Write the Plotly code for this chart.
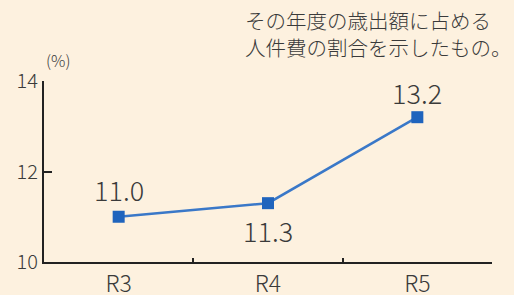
import plotly.graph_objects as go

categories = ["R3", "R4", "R5"]
values = [11.0, 11.3, 13.2]
value_labels = ["11.0", "11.3", "13.2"]
label_shift = [27, -27, 25]
y_ticks = [10, 12, 14]
note_lines = ["その年度の歳出額に占める", "人件費の割合を示したもの。"]
unit_text = "(%)"

BG = "#fdf1df"
LINE = "#3a78c8"
MARK = "#1f64bd"
TXT = "#3a3a3a"
FONT = "Noto Sans CJK JP"

fig = go.Figure()
fig.add_trace(go.Scatter(
    x=categories, y=values, mode="lines+markers",
    line=dict(color=LINE, width=2.5),
    marker=dict(symbol="square", size=12, color=MARK),
    hoverinfo="skip", showlegend=False,
))

for c, v, t, s in zip(categories, values, value_labels, label_shift):
    fig.add_annotation(x=c, y=v, text=t, showarrow=False, yshift=s,
                       font=dict(family=FONT, size=27, color=TXT, weight=300))

fig.add_annotation(xref="paper", yref="paper", x=0.444, y=1.26,
                   xanchor="left", yanchor="middle", align="left",
                   text="<br>".join(note_lines), showarrow=False,
                   font=dict(family=FONT, size=20.5, color=TXT, weight=300))
fig.add_annotation(xref="paper", yref="paper", x=0.031, y=1.116,
                   xanchor="center", yanchor="middle",
                   text=unit_text, showarrow=False,
                   font=dict(family=FONT, size=16, color=TXT, weight=300))

fig.update_layout(
    width=514, height=295,
    margin=dict(l=44, r=22, t=81, b=33),
    paper_bgcolor=BG, plot_bgcolor=BG,
    font=dict(family=FONT, color=TXT),
    xaxis=dict(range=[-0.5, 2.5], showgrid=False, zeroline=False,
               automargin=False,
               showline=True, linecolor="#222", linewidth=2,
               ticks="inside", tickson="boundaries", ticklen=4,
               tickwidth=2, tickcolor="#222", ticklabelstandoff=0,
               tickfont=dict(family=FONT, size=23, color=TXT, weight=300)),
    yaxis=dict(range=[10, 14], tickvals=y_ticks, showgrid=False,
               automargin=False,
               zeroline=False, showline=True, linecolor="#222",
               linewidth=2, ticks="inside", ticklen=8, tickwidth=2,
               tickcolor="#222",
               tickfont=dict(family=FONT, size=20, color=TXT, weight=300)),
)

fig.write_html("out.html", config={"displayModeBar": False},
               post_script="document.body.style.margin='0';document.body.style.background='" + BG + "';")
